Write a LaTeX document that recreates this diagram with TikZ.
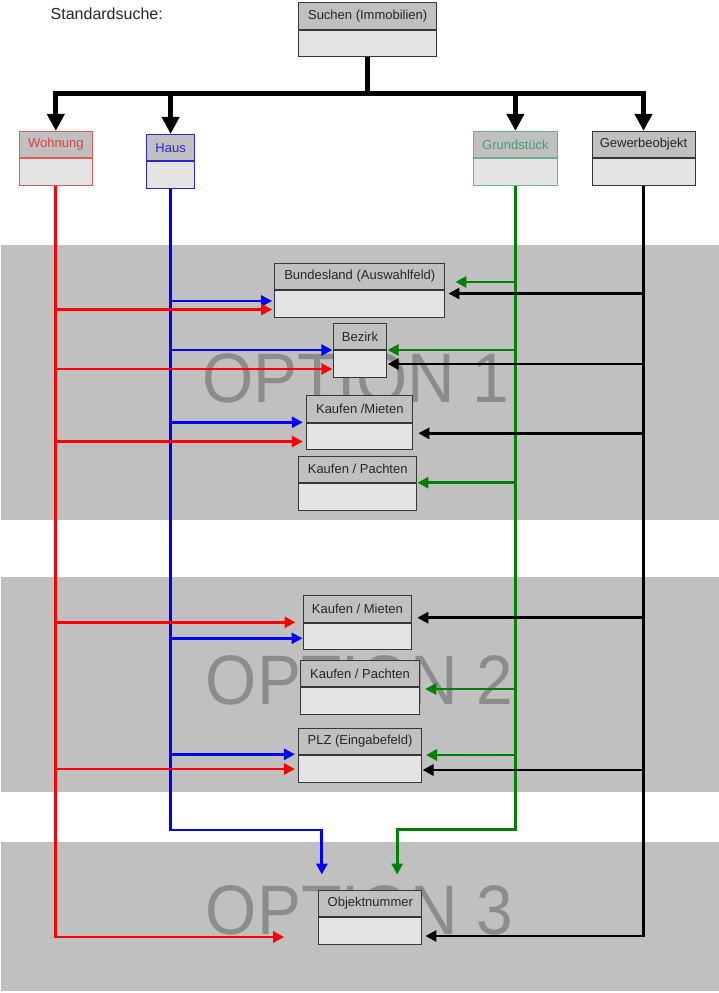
\documentclass[tikz,border=0pt]{standalone}
\usepackage{fontspec}
\setmainfont{Liberation Sans}
\usetikzlibrary{positioning,arrows.meta}

\definecolor{bandgray}{RGB}{192,192,192}
\definecolor{headgray}{RGB}{192,192,192}
\definecolor{bodygray}{RGB}{228,228,228}
\definecolor{optgray}{RGB}{140,140,140}
\definecolor{boxframe}{RGB}{55,55,55}
\definecolor{wohnred}{RGB}{255,0,0}
\definecolor{hausblue}{RGB}{0,0,255}
\definecolor{grundgreen}{RGB}{0,128,0}
\definecolor{wohntext}{RGB}{228,60,60}
\definecolor{haustext}{RGB}{40,40,210}
\definecolor{grundtext}{RGB}{70,155,115}
\definecolor{grundframe}{RGB}{110,175,140}

\tikzset{
  boxhead/.style={draw=boxframe, fill=headgray, line width=1pt, minimum height=26.5pt,
    inner sep=0pt, text=black!85, font=\fontsize{13}{15}\selectfont},
  boxbody/.style={draw=boxframe, fill=bodygray, line width=1pt, minimum height=26.5pt, inner sep=0pt},
  link/.style={line width=2.8pt, -{Triangle[length=11pt,width=11pt]}},
  tree/.style={line width=5pt, -{Triangle[length=17pt,width=17pt]}},
  optlabel/.style={text=optgray, font=\fontsize{70}{70}\selectfont, xscale=0.94, transform shape,
    anchor=base, inner sep=0pt},
}

\begin{document}
\begin{tikzpicture}[x=1pt,y=-1pt]
    \path[use as bounding box, fill=white] (0,0) rectangle (719,993);

    % Draw the option bands
    \fill[bandgray] (0.5,245) rectangle (718.5,520);
    \fill[bandgray] (0.5,577.3) rectangle (718.5,792.3);
    \fill[bandgray] (0.5,841.7) rectangle (718.5,991);

    % Label the bands
    \node[optlabel] (opt1) at (356,402.5) {OPTION 1};
    \node[optlabel] (opt2) at (359.5,704.5) {OPTION 2};
    \node[optlabel] (opt3) at (359.5,934.5) {OPTION 3};

    % Title
    \node[anchor=west, inner sep=0pt, font=\fontsize{16}{18}\selectfont, text=black!85] (std) at (50.5,13.5) {Standardsuche:};

    % Draw the root box
    \node[boxhead, minimum width=137.7pt] (such) at (367.7,16) {Suchen (Immobilien)};
    \node[boxbody, minimum width=137.7pt, below=0pt of such] (such-b) {};

    % Draw the four categories
    \node[boxhead, minimum width=73pt, draw=wohntext!85, text=wohntext] (wohn) at (55.8,144.6) {Wohnung};
    \node[boxbody, minimum width=73pt, draw=wohntext!85, below=0pt of wohn] (wohn-b) {};
    \node[boxhead, minimum width=48.2pt, draw=haustext, text=haustext] (haus) at (170.6,147.6) {Haus};
    \node[boxbody, minimum width=48.2pt, draw=haustext, below=0pt of haus] (haus-b) {};
    \node[boxhead, minimum width=84pt, draw=grundframe, text=grundtext] (grund) at (515.4,144.6) {Grundstück};
    \node[boxbody, minimum width=84pt, draw=grundframe, below=0pt of grund] (grund-b) {};
    \node[boxhead, minimum width=103pt] (gew) at (643.5,144.6) {Gewerbeobjekt};
    \node[boxbody, minimum width=103pt, below=0pt of gew] (gew-b) {};

    % Draw the fields of option 1
    \node[boxhead, minimum width=170.3pt] (bund) at (359.8,276.6) {Bundesland (Auswahlfeld)};
    \node[boxbody, minimum width=170.3pt, below=0pt of bund] (bund-b) {};
    \node[boxhead, minimum width=52.3pt] (bez) at (360,336.6) {Bezirk};
    \node[boxbody, minimum width=52.3pt, below=0pt of bez] (bez-b) {};
    \node[boxhead, minimum width=106pt] (km1) at (359.8,409) {Kaufen /Mieten};
    \node[boxbody, minimum width=106pt, below=0pt of km1] (km1-b) {};
    \node[boxhead, minimum width=117.5pt] (kp1) at (357.7,469.3) {Kaufen / Pachten};
    \node[boxbody, minimum width=117.5pt, below=0pt of kp1] (kp1-b) {};

    % Draw the fields of option 2
    \node[boxhead, minimum width=108.8pt] (km2) at (357.4,609) {Kaufen / Mieten};
    \node[boxbody, minimum width=108.8pt, below=0pt of km2] (km2-b) {};
    \node[boxhead, minimum width=118.5pt] (kp2) at (360,673.6) {Kaufen / Pachten};
    \node[boxbody, minimum width=118.5pt, below=0pt of kp2] (kp2-b) {};
    \node[boxhead, minimum width=123.1pt] (plz) at (360,741.3) {PLZ (Eingabefeld)};
    \node[boxbody, minimum width=123.1pt, below=0pt of plz] (plz-b) {};

    % Draw the field of option 3
    \node[boxhead, minimum width=103.3pt] (objn) at (370.3,903.3) {Objektnummer};
    \node[boxbody, minimum width=103.3pt, below=0pt of objn] (objn-b) {};

    % Draw the tree
    \coordinate (fork) at (such-b.south |- 0,93.5);
    \draw[line width=5pt] (such-b.south) -- (fork);
    \draw[tree] (fork) -| (wohn.north);
    \draw[tree] (fork) -| (haus.north);
    \draw[tree] (fork) -| (grund.north);
    \draw[tree] (fork) -| (gew.north);

    % Draw the ends of the long lines
    \path (objn-b.west |- 0,937) ++(-34,0) coordinate (wohn-end);
    \path (objn.north west) ++(3.7,-15) coordinate (haus-end);
    \path (objn.north west) ++(79,-15) coordinate (grund-end);
    \path (objn-b.east |- 0,936) ++(3,0) coordinate (gew-end);

    % Draw the long lines
    \draw[link, wohnred] (wohn-b.south) |- (wohn-end);
    \draw[link, hausblue] (haus-b.south) |- (haus-end |- 0,830) -- (haus-end);
    \draw[link, grundgreen] (grund-b.south) |- (grund-end |- 0,829.5) -- (grund-end);
    \draw[link, black] (gew-b.south) |- (gew-end);

    % Draw the arrows of option 1
    \draw[link, hausblue, shorten >=2pt] (haus-b.south |- 0,301) -- (bund-b.west |- 0,301);
    \draw[link, wohnred, shorten >=2pt] (wohn-b.south |- 0,309.5) -- (bund-b.west |- 0,309.5);
    \draw[link, grundgreen, shorten >=10pt] (grund-b.south |- 0,282) -- (bund.east |- 0,282);
    \draw[link, black, shorten >=3pt] (gew-b.south |- 0,293.5) -- (bund-b.east |- 0,293.5);
    \draw[link, hausblue, shorten >=1pt] (haus-b.south |- 0,350) -- (bez.west |- 0,350);
    \draw[link, wohnred, shorten >=1pt] (wohn-b.south |- 0,369) -- (bez-b.west |- 0,369);
    \draw[link, grundgreen, shorten >=1pt] (grund-b.south |- 0,350) -- (bez.east |- 0,350);
    \draw[link, black, shorten >=1pt] (gew-b.south |- 0,364) -- (bez-b.east |- 0,364);
    \draw[link, hausblue, shorten >=3.5pt] (haus-b.south |- 0,422.3) -- (km1.west |- 0,422.3);
    \draw[link, wohnred, shorten >=3.5pt] (wohn-b.south |- 0,441.5) -- (km1-b.west |- 0,441.5);
    \draw[link, black, shorten >=5pt] (gew-b.south |- 0,433.3) -- (km1-b.east |- 0,433.3);
    \draw[link, grundgreen, shorten >=0.5pt] (grund-b.south |- 0,482.7) -- (kp1.east |- 0,482.7);

    % Draw the arrows of option 2
    \draw[link, wohnred, shorten >=7pt] (wohn-b.south |- 0,622.3) -- (km2-b.west |- 0,622.3);
    \draw[link, hausblue] (haus-b.south |- 0,638.3) -- (km2-b.west |- 0,638.3);
    \draw[link, black, shorten >=5pt] (gew-b.south |- 0,617.7) -- (km2.east |- 0,617.7);
    \draw[link, grundgreen, shorten >=5.5pt] (grund-b.south |- 0,689) -- (kp2-b.east |- 0,689);
    \draw[link, hausblue, shorten >=3pt] (haus-b.south |- 0,754.3) -- (plz-b.west |- 0,754.3);
    \draw[link, wohnred, shorten >=3pt] (wohn-b.south |- 0,769) -- (plz-b.west |- 0,769);
    \draw[link, grundgreen, shorten >=4pt] (grund-b.south |- 0,755) -- (plz-b.east |- 0,755);
    \draw[link, black, shorten >=0.5pt] (gew-b.south |- 0,770) -- (plz-b.east |- 0,770);
\end{tikzpicture}
\end{document}
